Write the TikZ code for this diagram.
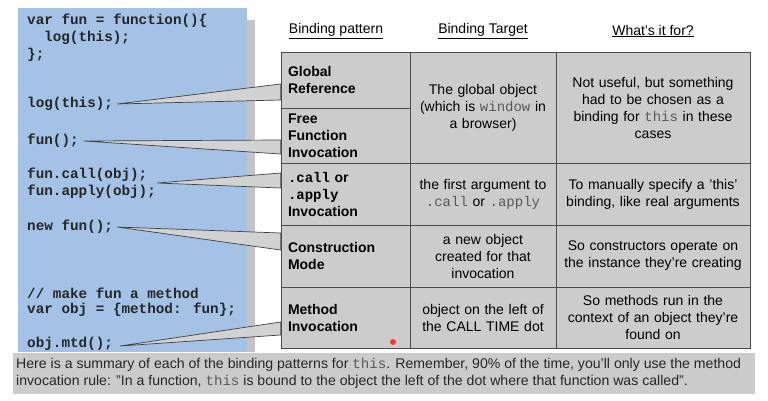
\documentclass[tikz,border=0pt]{standalone}
\usepackage{fontspec}
\setmainfont{Liberation Sans}
\newfontfamily\codefont{Liberation Mono}
\usetikzlibrary{positioning, calc}

\definecolor{panelblue}{HTML}{A4C2E6}
\definecolor{shadowgray}{HTML}{C4C4C4}
\definecolor{cellgray}{HTML}{CCCCCC}
\definecolor{wedgegray}{HTML}{D2D2D2}
\definecolor{sumgray}{HTML}{CBCBCB}

\newcommand{\mono}[1]{{\codefont\color{black!65}#1}}

\begin{document}
\begin{tikzpicture}[x=1pt, y=-1pt,
    code/.style={anchor=west, inner sep=0pt, align=left, text=black!85,
        font=\codefont\bfseries\fontsize{14.3}{16.5}\selectfont},
    cell/.style={draw=black!70, line width=0.8pt, fill=cellgray, inner ysep=0pt,
        font=\fontsize{14}{17}\selectfont},
    patcell/.style={cell, align=left, text width=115pt, inner xsep=7pt,
        font=\bfseries\fontsize{14}{17}\selectfont},
    tgtcell/.style={cell, align=center, text width=138pt, inner xsep=4pt},
    forcell/.style={cell, align=center, text width=186pt, inner xsep=4pt},
    head/.style={font=\fontsize{14}{17}\selectfont},
    wedge/.style={draw=black!75, line width=0.7pt, fill=wedgegray, line join=miter}]

    \useasboundingbox (0,0) rectangle (768,401);

    % ------------------ Code panel ------------------

    \fill[shadowgray] (247,20) rectangle (255,352);
    \fill[panelblue] (18,8) rectangle (247,352);

    \node[code] (fundef) at (27,21) {var fun = function()\{};
    \node[code] (fnbody) at (44,38) {log(this);};
    \node[code] (fnend) at (27,55) {\};};
    \node[code] (logthis) at (27,104) {log(this);};
    \node[code] (funcall) at (27,141) {fun();};
    \node[code] (callapply) at (27,183) {fun.call(obj);\\fun.apply(obj);};
    \node[code] (newfun) at (27,227) {new fun();};
    \node[code] (comment) at (27,293) {// make fun a method};
    \node[code] (objdef) at (27,310) {var obj = \{method: fun\};};
    \node[code] (objmtd) at (27,344) {obj.mtd();};

    % ------------------ Table ------------------

    \node[head] (hpat) at (336,31) {\underline{Binding pattern}};
    \node[head] (htgt) at (483,31) {\underline{Binding Target}};
    \node[head] (hfor) at (653,31) {\underline{What's it for?}};

    % Binding pattern
    \node[patcell, minimum height=56] (glob) at (345.5,80) {Global\\Reference};
    \node[patcell, minimum height=55] (free) at (345.5,135.5) {Free\\Function\\Invocation};
    \node[patcell, minimum height=62] (callp) at (345.5,194) {{\codefont .call} or\\{\codefont .apply}\\Invocation};
    \node[patcell, minimum height=62] (cons) at (345.5,256) {Construction\\Mode};
    \node[patcell, minimum height=61] (meth) at (345.5,317.5) {Method\\Invocation};

    % Binding target
    \node[tgtcell, minimum height=111] (tglob) at (483,107.5) {The global object\\(which is \mono{window} in\\a browser)};
    \node[tgtcell, minimum height=62] (tcall) at (483,194) {the first argument to\\\mono{.call} or \mono{.apply}};
    \node[tgtcell, minimum height=62] (tcons) at (483,256) {a new object\\created for that\\invocation};
    \node[tgtcell, minimum height=61] (tmeth) at (483,317.5) {object on the left of\\the CALL TIME dot};

    % What's it for
    \node[forcell, minimum height=111] (fglob) at (653,107.5) {Not useful, but something\\had to be chosen as a\\binding for \mono{this} in these\\cases};
    \node[forcell, minimum height=62] (fcall) at (653,194) {To manually specify a 'this'\\binding, like real arguments};
    \node[forcell, minimum height=62] (fcons) at (653,256) {So constructors operate on\\the instance they're creating};
    \node[forcell, minimum height=61] (fmeth) at (653,317.5) {So methods run in the\\context of an object they're\\found on};

    \node[circle, fill=red!80, inner sep=0pt, minimum size=6] (dot) at (393,342) {};

    % ------------------ Callouts ------------------

    \draw[wedge] ([xshift=4pt]logthis.east) -- ([yshift=-4pt]glob.west) -- ([yshift=-20pt]glob.west) -- cycle;
    \draw[wedge] ([xshift=5pt]funcall.east) -- ([yshift=-4.5pt]free.west) -- ([yshift=-18.5pt]free.west) -- cycle;
    \draw[wedge] ([xshift=1pt]callapply.east) -- ([yshift=21pt]callp.west) -- ([yshift=6pt]callp.west) -- cycle;
    \draw[wedge] ([xshift=4pt]newfun.east) -- ([yshift=23pt]cons.west) -- ([yshift=6pt]cons.west) -- cycle;
    \draw[wedge] ([xshift=7pt,yshift=-2pt]objmtd.east) -- ([yshift=-4.5pt]meth.west) -- ([yshift=-17.5pt]meth.west) -- cycle;

    % ------------------ Summary ------------------

    \node[fill=sumgray, anchor=north west, minimum width=742, minimum height=41,
        inner sep=0pt] (sumbar) at (13,353) {};
    \node[anchor=west, inner sep=0pt, align=left, text=black!85,
        font=\fontsize{14.1}{17}\selectfont] (summary) at ([xshift=3pt]sumbar.west)
        {Here is a summary of each of the binding patterns for \mono{this}. Remember, 90\% of the time, you'll only use the method\\
         invocation rule: "In a function, \mono{this} is bound to the object the left of the dot where that function was called".};

\end{tikzpicture}
\end{document}
